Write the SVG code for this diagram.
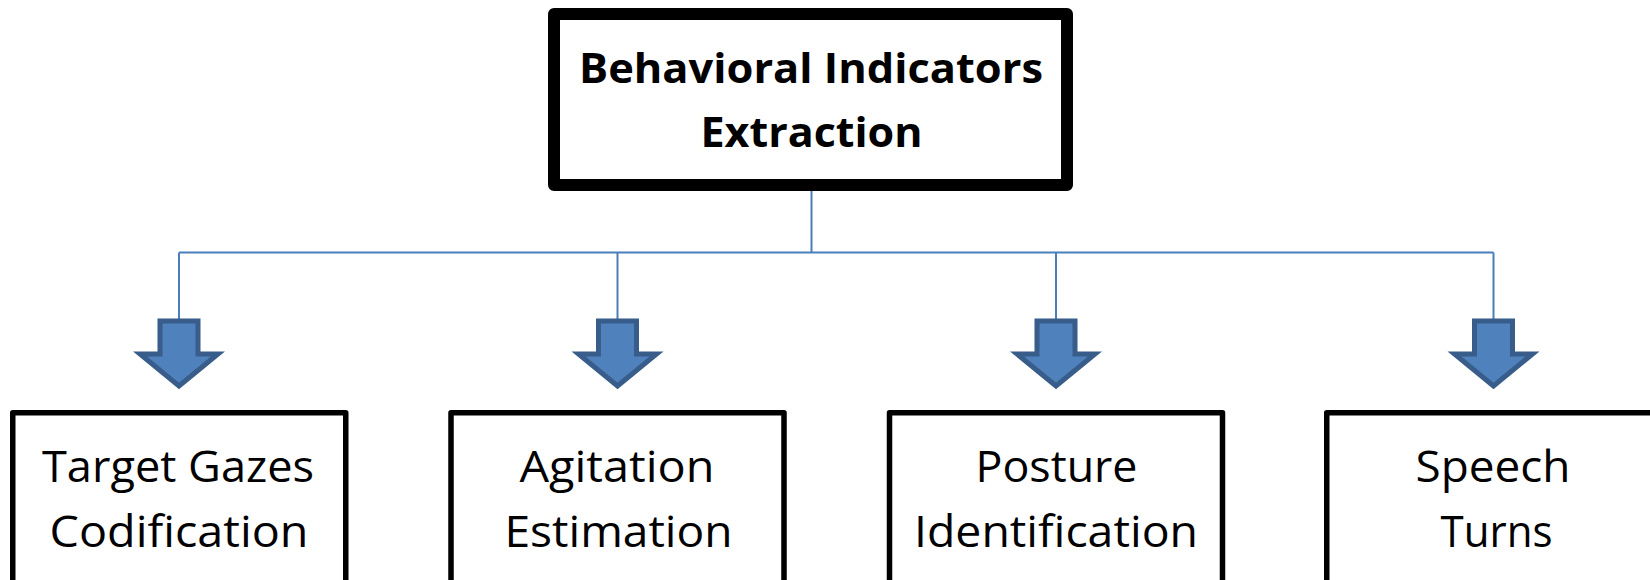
<svg xmlns="http://www.w3.org/2000/svg" width="1650" height="580" viewBox="0 0 1650 580">
<style>
.box{fill:#ffffff;stroke:#000000;stroke-linejoin:round}
.top{stroke-width:12}
.sub{stroke-width:5.5}
.t1{font-family:"Open Sans","Liberation Sans",sans-serif;font-weight:bold;font-size:42px;fill:#000;text-anchor:middle}
.t2{font-family:"Open Sans","Liberation Sans",sans-serif;font-size:44px;fill:#000;text-anchor:middle}
.conn{fill:none;stroke:#4a7ebb;stroke-width:2}
.arrow{fill:#4f81bd;stroke:#385d8a;stroke-width:5;stroke-linejoin:miter}
</style>
<rect width="1650" height="580" fill="#ffffff"/>
<g id="connectors">
<path class="conn" d="M811.5,191 V252.5 M179,252.5 H1493.5 M179,252.5 V322 M617.5,252.5 V322 M1056,252.5 V322 M1493.5,252.5 V322"/>
<path class="arrow" d="M160,321 H198 V354 H218 L179,386 L140,354 H160 Z"/>
<path class="arrow" d="M598.5,321 H636.5 V354 H656.5 L617.5,386 L578.5,354 H598.5 Z"/>
<path class="arrow" d="M1037,321 H1075 V354 H1095 L1056,386 L1017,354 H1037 Z"/>
<path class="arrow" d="M1474.5,321 H1512.5 V354 H1532.5 L1493.5,386 L1454.5,354 H1474.5 Z"/>
</g>
<g id="node-top">
<rect class="box top" x="554" y="14" width="513" height="171"/>
<text class="t1" x="811" y="83" textLength="464" lengthAdjust="spacingAndGlyphs">Behavioral Indicators</text>
<text class="t1" x="811.5" y="147" textLength="222" lengthAdjust="spacingAndGlyphs">Extraction</text>
</g>
<g id="node-gazes">
<rect class="box sub" x="12.75" y="412.75" width="333" height="170"/>
<text class="t2" x="178" y="482" textLength="272" lengthAdjust="spacingAndGlyphs">Target Gazes</text>
<text class="t2" x="179" y="547" textLength="259" lengthAdjust="spacingAndGlyphs">Codification</text>
</g>
<g id="node-agitation">
<rect class="box sub" x="451" y="412.75" width="333" height="170"/>
<text class="t2" x="617" y="482" textLength="195" lengthAdjust="spacingAndGlyphs">Agitation</text>
<text class="t2" x="618.5" y="547" textLength="228" lengthAdjust="spacingAndGlyphs">Estimation</text>
</g>
<g id="node-posture">
<rect class="box sub" x="889.5" y="412.75" width="333" height="170"/>
<text class="t2" x="1056.5" y="482" textLength="162" lengthAdjust="spacingAndGlyphs">Posture</text>
<text class="t2" x="1056" y="547" textLength="284" lengthAdjust="spacingAndGlyphs">Identification</text>
</g>
<g id="node-speech">
<rect class="box sub" x="1326.75" y="412.75" width="333" height="170"/>
<text class="t2" x="1493" y="482" textLength="155" lengthAdjust="spacingAndGlyphs">Speech</text>
<text class="t2" x="1496.5" y="547" textLength="112" lengthAdjust="spacingAndGlyphs">Turns</text>
</g>
</svg>
